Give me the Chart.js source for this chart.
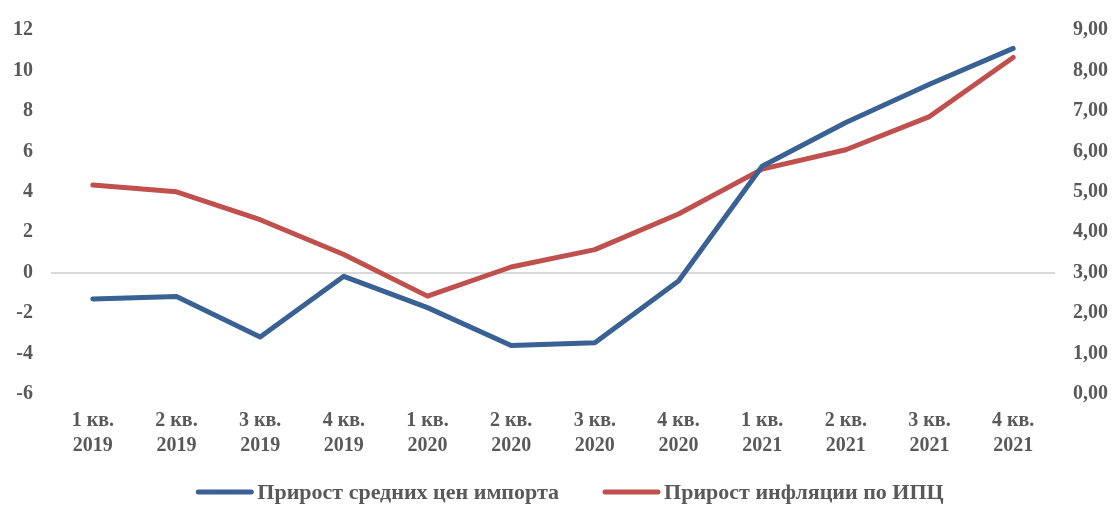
<!DOCTYPE html>
<html lang="ru">
<head>
<meta charset="utf-8">
<title>Прирост цен импорта и инфляции</title>
<script src="https://cdn.jsdelivr.net/npm/chart.js@4.4.1/dist/chart.umd.min.js"></script>
<style>
    html, body { margin: 0; padding: 0; background: #ffffff; }
    .chart-box { width: 1112px; height: 505px; position: relative; }
</style>
</head>
<body>
<div class="chart-box"><canvas id="chart" width="1112" height="505"></canvas></div>
<script>
const quarters = ['1 кв.', '2 кв.', '3 кв.', '4 кв.', '1 кв.', '2 кв.', '3 кв.', '4 кв.', '1 кв.', '2 кв.', '3 кв.', '4 кв.'];
const years = ['2019', '2019', '2019', '2019', '2020', '2020', '2020', '2020', '2021', '2021', '2021', '2021'];

// left axis, %
const importPrices = [-1.30, -1.18, -3.18, -0.18, -1.73, -3.60, -3.47, -0.41, 5.26, 7.43, 9.32, 11.09];
// right axis, %
const cpiInflation = [5.17, 5.00, 4.31, 3.45, 2.42, 3.14, 3.57, 4.45, 5.56, 6.04, 6.86, 8.32];

const leftTicks = { min: -6, max: 12, step: 2 };
const rightTicks = { min: 0, max: 9, step: 1 };

const seriesNames = ['Прирост средних цен импорта', 'Прирост инфляции по ИПЦ'];
const seriesColors = ['#3A6194', '#C0504D'];

const textColor = '#595959';
const fontFamily = '"Liberation Serif", "Times New Roman", serif';
const serifBold = { family: fontFamily, size: 20, weight: 'bold' };

// legend drawn under the axis: short thick line + series name
const lineLegend = {
    id: 'lineLegend',
    afterDraw: function(chart) {
        const ctx = chart.ctx;
        const y = 492;
        const sample = 57;
        const textGap = 4;
        const itemGap = 44;
        ctx.save();
        ctx.font = 'bold 22px ' + fontFamily;
        ctx.textBaseline = 'middle';
        const widths = chart.data.datasets.map(function(ds) {
            return sample + textGap + ctx.measureText(ds.label).width;
        });
        const total = widths.reduce(function(a, b) { return a + b; }, 0) + itemGap * (widths.length - 1);
        let x = (chart.width - total) / 2 + 14;
        chart.data.datasets.forEach(function(ds, i) {
            ctx.strokeStyle = ds.borderColor;
            ctx.lineWidth = 5;
            ctx.lineCap = 'round';
            ctx.beginPath();
            ctx.moveTo(x + 2, y);
            ctx.lineTo(x + sample - 2, y);
            ctx.stroke();
            ctx.fillStyle = textColor;
            ctx.fillText(ds.label, x + sample + textGap, y + 1);
            x += widths[i] + itemGap;
        });
        ctx.restore();
    }
};

document.addEventListener('DOMContentLoaded', function() {
    initChart();
});

function initChart() {
    const canvas = document.getElementById('chart');
    const labels = quarters.map(function(q, i) { return [q, years[i]]; });

    new Chart(canvas, {
        type: 'line',
        data: {
            labels: labels,
            datasets: [{
                label: seriesNames[0],
                data: importPrices,
                yAxisID: 'y',
                borderColor: seriesColors[0],
                backgroundColor: seriesColors[0]
            }, {
                label: seriesNames[1],
                data: cpiInflation,
                yAxisID: 'y1',
                borderColor: seriesColors[1],
                backgroundColor: seriesColors[1]
            }]
        },
        plugins: [lineLegend],
        options: {
            responsive: false,
            animation: false,
            devicePixelRatio: 1,
            layout: {
                padding: { top: 29, left: 0, right: 0, bottom: 0 }
            },
            elements: {
                line: {
                    borderWidth: 5,
                    tension: 0,
                    borderCapStyle: 'round',
                    borderJoinStyle: 'round'
                },
                point: { radius: 0, hoverRadius: 0 }
            },
            plugins: {
                tooltip: { enabled: false },
                legend: { display: false }
            },
            scales: {
                x: {
                    offset: true,
                    grid: { display: false, drawTicks: false },
                    border: { display: false },
                    ticks: {
                        color: textColor,
                        font: Object.assign({}, serifBold, { lineHeight: 1.25 }),
                        padding: 14,
                        maxRotation: 0,
                        autoSkip: false
                    },
                    afterFit: function(scale) { scale.height = 111; }
                },
                y: {
                    position: 'left',
                    min: leftTicks.min,
                    max: leftTicks.max,
                    grid: {
                        drawTicks: false,
                        lineWidth: 2,
                        color: function(ctx) {
                            return ctx.tick && ctx.tick.value === 0 ? '#D9D9D9' : 'rgba(0,0,0,0)';
                        }
                    },
                    border: { display: false },
                    ticks: {
                        stepSize: leftTicks.step,
                        color: textColor,
                        font: serifBold,
                        padding: 18
                    },
                    afterFit: function(scale) { scale.width = 51; }
                },
                y1: {
                    position: 'right',
                    min: rightTicks.min,
                    max: rightTicks.max,
                    grid: { display: false, drawTicks: false },
                    border: { display: false },
                    ticks: {
                        stepSize: rightTicks.step,
                        color: textColor,
                        font: serifBold,
                        padding: 18,
                        callback: function(value) {
                            return value.toFixed(2).replace('.', ',');
                        }
                    },
                    afterFit: function(scale) { scale.width = 57; }
                }
            }
        }
    });
}
</script>
</body>
</html>
